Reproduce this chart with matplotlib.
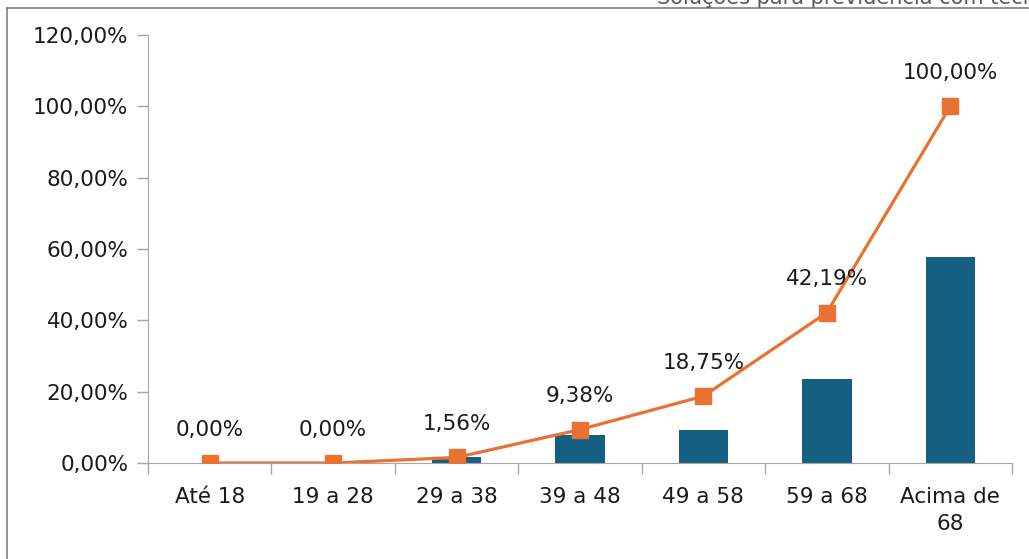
import matplotlib.pyplot as plt
from matplotlib.lines import Line2D

# Faixa etária -> participação (barras) e acumulado (linha)
categorias = ["Até 18", "19 a 28", "29 a 38", "39 a 48", "49 a 58", "59 a 68", "Acima de\n68"]
participacao = [0.00, 0.00, 1.56, 7.81, 9.38, 23.44, 57.81]
acumulado = [0.00, 0.00, 1.56, 9.38, 18.75, 42.19, 100.00]
rotulos = ["0,00%", "0,00%", "1,56%", "9,38%", "18,75%", "42,19%", "100,00%"]
yticks = [0, 20, 40, 60, 80, 100, 120]

plt.rcParams["font.family"] = ["DejaVu Sans"]

fig = plt.figure(figsize=(10.29, 5.59), dpi=100)
ax = fig.add_axes([0.1438, 0.1717, 0.8397, 0.7657])

x = list(range(len(categorias)))
ax.bar(x, participacao, width=0.4, color="#156082", zorder=2)
ax.plot(x, acumulado, color="#E97132", lw=2.3, marker="s", markersize=11.5,
        zorder=3)

for xi, yi, txt in zip(x, acumulado, rotulos):
    ax.annotate(txt, (xi, yi), xytext=(0, 24), textcoords="offset points",
                ha="center", va="center", fontsize=15.5, color="#1a1a1a")

ax.set_xlim(-0.5, len(categorias) - 0.5)
ax.set_ylim(0, 120)
ax.set_yticks(yticks)
ax.set_yticklabels([f"{v},00%" for v in yticks], fontsize=15.5, color="#1a1a1a")

ax.set_xticks(x)
ax.set_xticklabels(categorias, fontsize=15.5, color="#1a1a1a", linespacing=1.45)
ax.tick_params(axis="x", length=0, pad=17)
ax.set_xticks([i + 0.5 for i in range(-1, len(categorias))], minor=True)
ax.tick_params(axis="x", which="minor", length=8, color="#A6A6A6", width=1)
ax.tick_params(axis="y", length=8, color="#A6A6A6", width=1, pad=6)

for s in ["top", "right"]:
    ax.spines[s].set_visible(False)
for s in ["left", "bottom"]:
    ax.spines[s].set_color("#A6A6A6")

# moldura recortada da imagem original
fig.add_artist(Line2D([7 / 1029, 7 / 1029], [0, 1 - 8 / 559], transform=fig.transFigure,
                      color="#7F7F7F", lw=1.2))
fig.add_artist(Line2D([7 / 1029, 1], [1 - 8 / 559, 1 - 8 / 559], transform=fig.transFigure,
                      color="#7F7F7F", lw=1.2))
fig.text(657 / 1029, 1.005, "Soluções para previdência com tecnologia", fontsize=15,
         color="#595959", ha="left", va="center")

fig.savefig("out.png", dpi=100)
